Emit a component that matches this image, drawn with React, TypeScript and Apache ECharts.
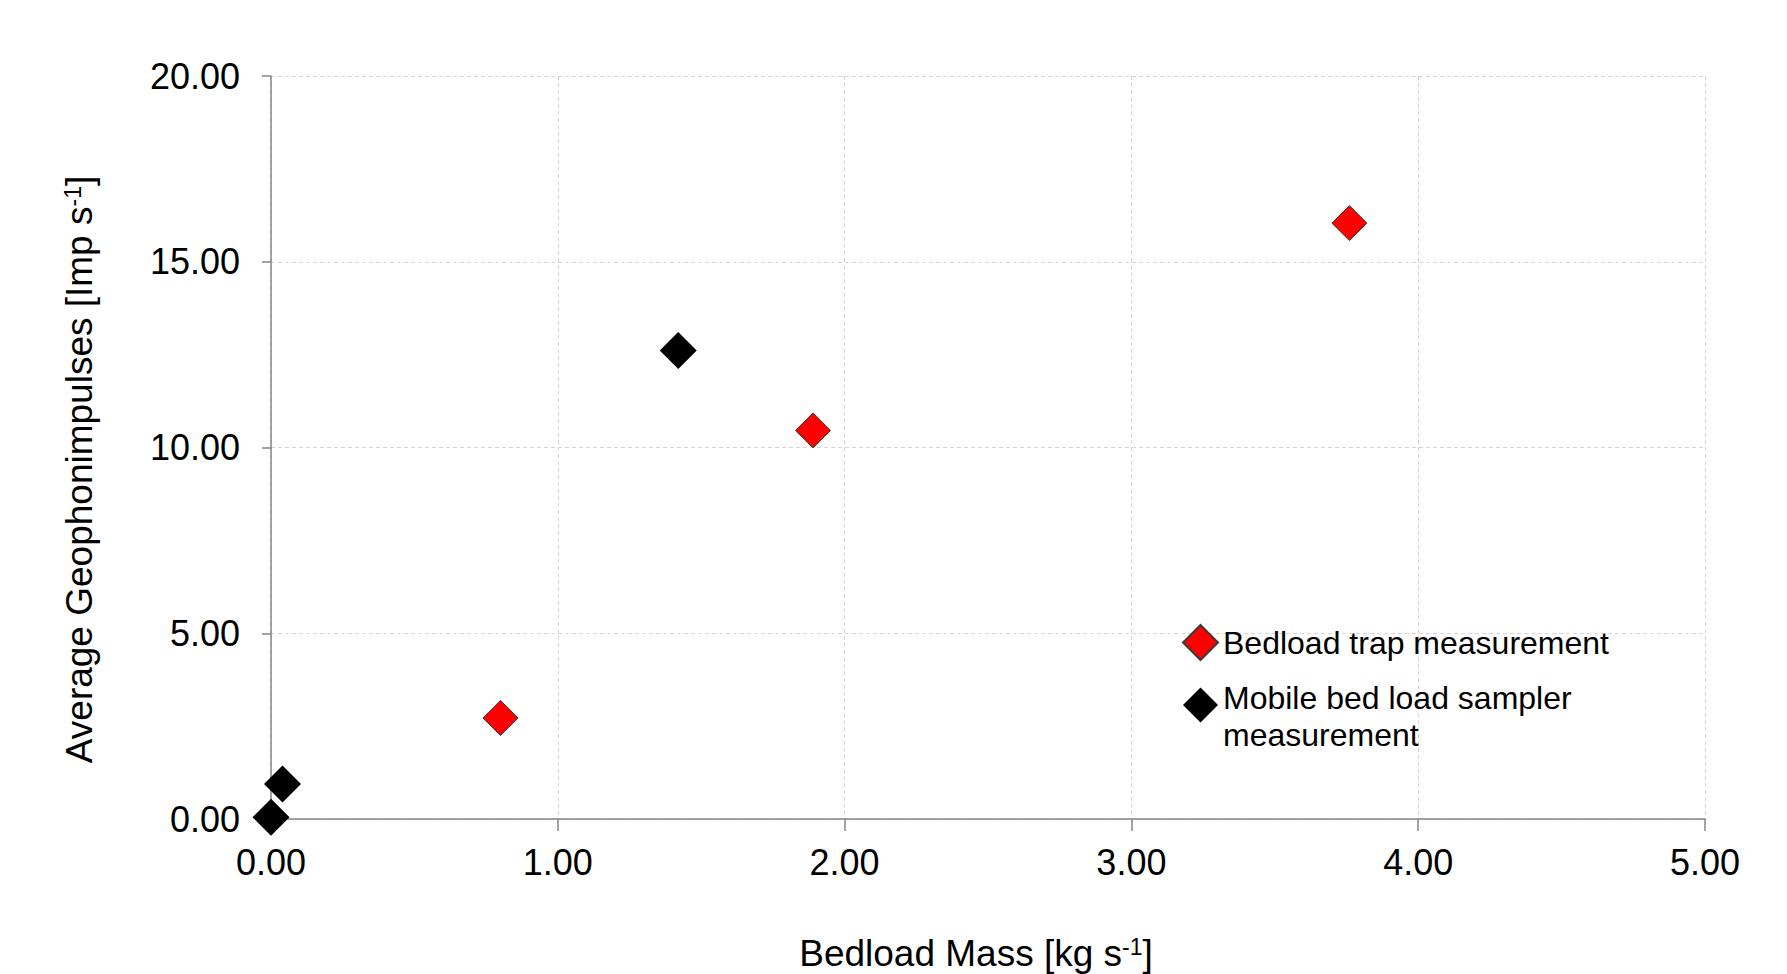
import React, { useEffect, useRef } from "react";
import * as echarts from "echarts";

const trapName = "Bedload trap measurement";
const samplerName = "Mobile bed load sampler\nmeasurement";
const samplerLines = ["Mobile bed load sampler", "measurement"];

// [bedload mass kg/s, average geophone impulses Imp/s]
const trapPoints: [number, number][] = [
  [0.8, 2.72],
  [1.89, 10.46],
  [3.76, 16.04],
];
const samplerPoints: [number, number][] = [
  [0.0, 0.05],
  [0.04, 0.94],
  [1.42, 12.61],
];

const xRange = { min: 0, max: 5, interval: 1 };
const yRange = { min: 0, max: 20, interval: 5 };

const FONT = "'Liberation Sans', Arial, sans-serif";

export default function App() {
  const ref = useRef<HTMLDivElement>(null);

  useEffect(() => {
    if (!ref.current) return;
    const chart = echarts.init(ref.current, undefined, { renderer: "svg" });
    const axisLine = { show: true, lineStyle: { color: "#868686", width: 1.5 } };
    const splitLine = {
      show: true,
      lineStyle: { color: "#d6d6d6", width: 1, type: [4, 3] as number[] },
    };
    chart.setOption({
      animation: false,
      backgroundColor: "#ffffff",
      textStyle: { fontFamily: FONT, color: "#000" },
      grid: {
        left: 271,
        right: 82,
        top: 76,
        bottom: 155,
        containLabel: false,
        outerBoundsMode: "none",
      },
      legend: {
        orient: "vertical",
        left: 1182,
        top: 624,
        padding: 0,
        itemWidth: 35,
        itemHeight: 35,
        itemGap: -2,
        selectedMode: false,
        textStyle: {
          fontFamily: FONT,
          fontSize: 32,
          lineHeight: 37,
          color: "#000",
          rich: {
            l1: { fontFamily: FONT, fontSize: 32, lineHeight: 37, color: "#000", padding: [23, 0, 0, 0] },
            l2: { fontFamily: FONT, fontSize: 32, lineHeight: 37, color: "#000", padding: [23, 0, 0, 0] },
          },
        },
        formatter: (name: string) =>
          name === samplerName
            ? `{l1|${samplerLines[0]}}\n{l2|${samplerLines[1]}}`
            : name,
        data: [trapName, samplerName],
      },
      xAxis: {
        type: "value",
        min: xRange.min,
        max: xRange.max,
        interval: xRange.interval,
        name: "Bedload Mass [kg s{sup|-1}]",
        nameLocation: "middle",
        nameGap: 116,
        nameTextStyle: {
          fontFamily: FONT,
          fontSize: 37,
          color: "#000",
          padding: [0, 24, 0, 0],
          rich: {
            sup: { fontFamily: FONT, fontSize: 23, color: "#000", verticalAlign: "top" },
          },
        },
        axisLine,
        axisTick: { show: true, inside: false, length: 12, lineStyle: { color: "#868686", width: 1.5 } },
        axisLabel: {
          fontFamily: FONT,
          fontSize: 36,
          color: "#000",
          margin: 25,
          formatter: (v: number) => v.toFixed(2),
        },
        splitLine,
      },
      yAxis: {
        type: "value",
        min: yRange.min,
        max: yRange.max,
        interval: yRange.interval,
        name: "Average Geophonimpulses [Imp s{sup|-1}]",
        nameLocation: "middle",
        nameGap: 173,
        nameTextStyle: {
          fontFamily: FONT,
          fontSize: 37,
          color: "#000",
          padding: [0, 44, 0, 0],
          rich: {
            sup: { fontFamily: FONT, fontSize: 23, color: "#000", verticalAlign: "top" },
          },
        },
        axisLine,
        axisTick: { show: true, inside: false, length: 9, lineStyle: { color: "#868686", width: 1.5 } },
        axisLabel: {
          fontFamily: FONT,
          fontSize: 36,
          color: "#000",
          margin: 31,
          formatter: (v: number) => v.toFixed(2),
        },
        splitLine,
      },
      series: [
        {
          name: trapName,
          type: "scatter",
          symbol: "diamond",
          symbolSize: 35,
          itemStyle: { color: "#ff0000", borderColor: "#3a3a3a", borderWidth: 1, opacity: 1 },
          data: trapPoints,
        },
        {
          name: samplerName,
          type: "scatter",
          symbol: "diamond",
          symbolSize: 37,
          itemStyle: { color: "#000000", opacity: 1 },
          data: samplerPoints,
        },
      ],
    });
    return () => chart.dispose();
  }, []);

  return (
    <div
      ref={ref}
      style={{ position: "fixed", left: 0, top: 0, width: 1787, height: 974, background: "#fff" }}
    />
  );
}
